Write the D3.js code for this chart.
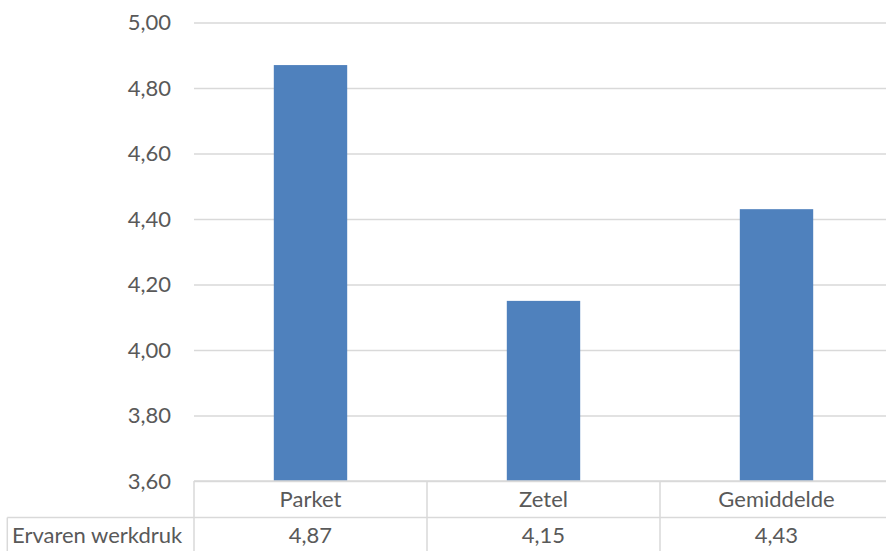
<!DOCTYPE html>
<html><head><meta charset="utf-8">
<script src="https://cdn.jsdelivr.net/npm/d3@7"></script>
<style>
html,body{margin:0;padding:0;background:#fff;overflow:hidden;}
svg{display:block;font-family:Lato,"Open Sans",sans-serif;}
</style></head>
<body><svg id="chart" width="886" height="551"></svg>
<script>
const categories = ["Parket", "Zetel", "Gemiddelde"];
const seriesName = "Ervaren werkdruk";
const values = [4.87, 4.15, 4.43];
const yTicks = [3.6, 3.8, 4.0, 4.2, 4.4, 4.6, 4.8, 5.0];

const svg = d3.select("#chart");
const plotLeft = 194, plotRight = 893, plotTop = 22.5, plotBottom = 481;
const row1 = 517.5, row2 = 554;
const gridColor = "#d9d9d9", textColor = "#595959", barColor = "#4f81bd";
const fontSize = 22;

const nl = d3.formatLocale({decimal: ",", thousands: ".", grouping: [3], currency: ["€", ""]});
const fmt = nl.format(".2f");

const y = d3.scaleLinear().domain([3.6, 5.0]).range([plotBottom, plotTop]);
const xCol = d3.scaleBand().domain(categories).range([plotLeft, plotRight]).padding(0);
const xBar = d3.scaleBand().domain(categories).range([plotLeft, plotRight]).paddingInner(0.685).paddingOuter(0.3425);

// gridlines
svg.append("g").attr("transform", `translate(${plotLeft},0)`)
  .call(d3.axisLeft(y).tickValues(yTicks).tickSize(-(plotRight - plotLeft)).tickFormat(""))
  .call(g => g.select(".domain").remove())
  .call(g => g.selectAll("line").attr("stroke", gridColor).attr("stroke-width", 1.5));

// y labels
svg.append("g").attr("transform", `translate(${plotLeft},0)`)
  .call(d3.axisLeft(y).tickValues(yTicks).tickSize(0).tickPadding(23).tickFormat(fmt))
  .call(g => g.select(".domain").remove())
  .call(g => g.selectAll("text").attr("fill", textColor).attr("font-size", fontSize).attr("font-family", "Lato"));

// bars
svg.append("g").selectAll("rect").data(values).join("rect")
  .attr("x", (d, i) => xBar(categories[i]))
  .attr("width", xBar.bandwidth())
  .attr("y", d => y(d))
  .attr("height", d => y(3.6) - y(d))
  .attr("fill", barColor);

// data table
const t = svg.append("g").attr("stroke", gridColor).attr("stroke-width", 1.5).attr("fill", "none");
t.append("line").attr("x1", plotLeft).attr("x2", plotRight).attr("y1", plotBottom).attr("y2", plotBottom);
t.append("line").attr("x1", 7.3).attr("x2", plotRight).attr("y1", row1).attr("y2", row1);
t.append("line").attr("x1", 7.3).attr("x2", plotRight).attr("y1", row2).attr("y2", row2);
t.append("line").attr("x1", 7.3).attr("x2", 7.3).attr("y1", row1).attr("y2", row2);
const colEdges = categories.map(c => xCol(c)).concat([plotRight]);
t.selectAll("line.v").data(colEdges).join("line").attr("class", "v")
  .attr("x1", d => d).attr("x2", d => d).attr("y1", plotBottom).attr("y2", row2);

const txt = svg.append("g").attr("fill", textColor).attr("font-size", fontSize).attr("font-family", "Lato");
txt.selectAll("text.cat").data(categories).join("text").attr("class", "cat")
  .attr("x", d => xCol(d) + xCol.bandwidth() / 2).attr("y", (plotBottom + row1) / 2)
  .attr("text-anchor", "middle").attr("dy", "0.35em").text(d => d);
txt.selectAll("text.val").data(values).join("text").attr("class", "val")
  .attr("x", (d, i) => xCol(categories[i]) + xCol.bandwidth() / 2).attr("y", 535.7)
  .attr("text-anchor", "middle").attr("dy", "0.35em").text(d => fmt(d));
txt.append("text").attr("x", 12).attr("y", 535.7).attr("dy", "0.35em").text(seriesName);
</script></body></html>
